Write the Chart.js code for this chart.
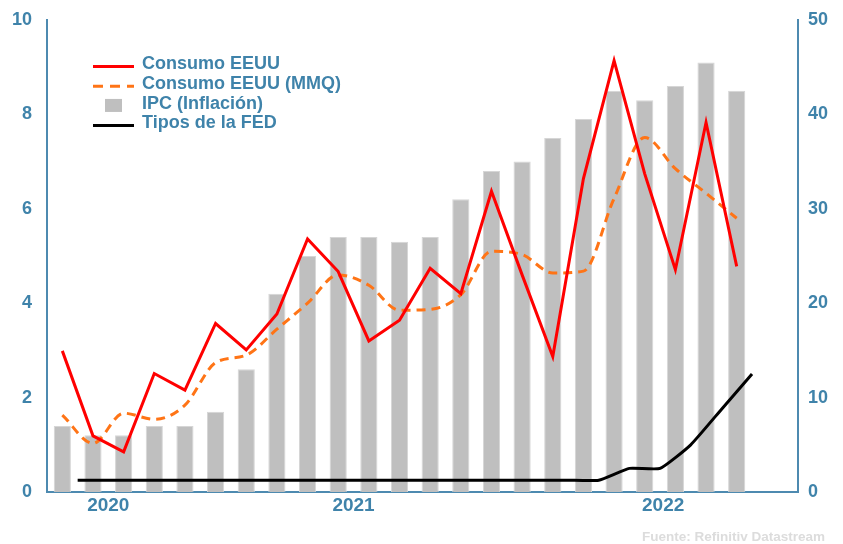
<!DOCTYPE html>
<html>
  <head>
    <script src="https://cdn.jsdelivr.net/npm/chart.js"></script>
  </head>
  <style>
    body {
      margin: 0;
      background: white;
    }
    #container {
      width: 843px;
      height: 544px;
    }
  </style>
  <body>
    <div id="container">
      <canvas id="consumoChart"></canvas>
    </div>
    <script>
      // meses de sep-2020 a jul-2022
      const MONTHS = ['2020-09', '2020-10', '2020-11', '2020-12', '2021-01', '2021-02', '2021-03', '2021-04',
        '2021-05', '2021-06', '2021-07', '2021-08', '2021-09', '2021-10', '2021-11', '2021-12',
        '2022-01', '2022-02', '2022-03', '2022-04', '2022-05', '2022-06', '2022-07'];
      const YEARS = ['2020', '2021', '2022'];

      const CONSUMO = [2.99, 1.19, 0.85, 2.51, 2.16, 3.57, 3.01, 3.77, 5.36, 4.67, 3.2, 3.64,
        4.74, 4.2, 6.37, 4.6, 2.87, 6.64, 9.14, 6.74, 4.71, 7.83, 4.78];
      const CONSUMO_MMQ = [1.63, 1.03, 1.67, 1.54, 1.84, 2.74, 2.9, 3.45, 4.0, 4.6, 4.38, 3.85,
        3.87, 4.18, 5.1, 5.03, 4.64, 4.68, 6.22, 7.51, 6.85, 6.33, 5.8];
      const IPC = [1.4, 1.2, 1.2, 1.4, 1.4, 1.7, 2.6, 4.2, 5.0, 5.4, 5.4, 5.3,
        5.4, 6.2, 6.8, 7.0, 7.5, 7.9, 8.5, 8.3, 8.6, 9.1, 8.5];
      const TIPOS_FED = [0.25, 0.25, 0.25, 0.25, 0.25, 0.25, 0.25, 0.25, 0.25, 0.25, 0.25, 0.25,
        0.25, 0.25, 0.25, 0.25, 0.25, 0.25, 0.5, 0.5, 1.0, 1.75, 2.5];

      const AXIS_COLOR = '#4d8ab0';
      const TEXT_COLOR = '#3f83aa';
      const FONT = 'Liberation Sans';

      const X_MIN = -0.5;
      const X_MAX = 24;

      // centro de cada año dentro del eje
      const yearCenters = YEARS.map((year) => {
        const idx = MONTHS.map((m, i) => m.startsWith(year) ? i : null).filter((i) => i !== null);
        const from = Math.max(X_MIN, idx[0] - 0.5);
        const to = year === YEARS[YEARS.length - 1] ? X_MAX - 0.3 : idx[idx.length - 1] + 0.5;
        return (from + to) / 2;
      });

      const leyenda = {
        id: 'leyenda',
        afterDraw(chart, args, opts) {
          const ctx = chart.ctx;
          ctx.save();
          ctx.font = 'bold 18px "' + FONT + '"';
          ctx.textBaseline = 'alphabetic';
          opts.order.forEach((dsIndex, row) => {
            const ds = chart.data.datasets[dsIndex];
            const base = opts.top + row * opts.rowHeight;
            if (ds.type === 'bar') {
              ctx.fillStyle = ds.backgroundColor;
              ctx.fillRect(opts.boxX, base - 9.7, 17, 13);
            } else {
              ctx.beginPath();
              ctx.strokeStyle = ds.borderColor;
              ctx.lineWidth = 3;
              ctx.setLineDash(ds.borderDash ? [10, 7] : []);
              ctx.moveTo(opts.lineX1, base - 2.7);
              ctx.lineTo(opts.lineX2, base - 2.7);
              ctx.stroke();
              ctx.setLineDash([]);
            }
            ctx.fillStyle = TEXT_COLOR;
            ctx.fillText(ds.label, opts.textX, base);
          });
          ctx.restore();
        }
      };

      const fuente = {
        id: 'fuente',
        afterDraw(chart) {
          const ctx = chart.ctx;
          ctx.save();
          ctx.font = 'bold 13.5px "' + FONT + '"';
          ctx.fillStyle = '#dcdcdc';
          ctx.textAlign = 'right';
          ctx.textBaseline = 'alphabetic';
          ctx.fillText('Fuente: Refinitiv Datastream', 825, 541);
          ctx.restore();
        }
      };

      const tickFont = { family: FONT, weight: 'bold', size: 18 };

      const fitVertical = (width) => (scale) => {
        scale.width = width;
        scale.paddingTop = 0;
        scale.paddingBottom = 0;
      };

      const config = {
        type: 'bar',
        data: {
          datasets: [
            {
              type: 'line',
              label: 'Consumo EEUU',
              data: CONSUMO.map((v, i) => ({ x: i, y: v })),
              borderColor: '#ff0000',
              borderWidth: 3,
              pointRadius: 0,
              tension: 0,
              yAxisID: 'y',
              order: 0
            },
            {
              type: 'line',
              label: 'Consumo EEUU (MMQ)',
              data: CONSUMO_MMQ.map((v, i) => ({ x: i, y: v })),
              borderColor: '#ff7416',
              borderWidth: 3,
              borderDash: [9, 6],
              pointRadius: 0,
              cubicInterpolationMode: 'monotone',
              yAxisID: 'y',
              order: 1
            },
            {
              type: 'bar',
              label: 'IPC (Inflación)',
              data: IPC.map((v, i) => ({ x: i, y: v })),
              backgroundColor: '#bfbfbf',
              borderColor: '#d6d6d6',
              borderWidth: 1,
              categoryPercentage: 1,
              barPercentage: 0.56,
              yAxisID: 'y',
              order: 3
            },
            {
              type: 'line',
              label: 'Tipos de la FED',
              // tipos fechados a mitad de mes
              data: TIPOS_FED.map((v, i) => ({ x: i + 0.5, y: v })),
              borderColor: '#000000',
              borderWidth: 3,
              pointRadius: 0,
              tension: 0.15,
              yAxisID: 'y',
              order: 2
            }
          ]
        },
        options: {
          responsive: true,
          maintainAspectRatio: false,
          animation: false,
          layout: {
            padding: { top: 20, left: 0, right: 0, bottom: 0 }
          },
          plugins: {
            legend: { display: false },
            tooltip: { enabled: false },
            leyenda: {
              order: [0, 1, 2, 3],
              top: 69.3,
              rowHeight: 19.67,
              lineX1: 93,
              lineX2: 134,
              boxX: 105,
              textX: 142
            }
          },
          scales: {
            x: {
              type: 'linear',
              min: X_MIN,
              max: X_MAX,
              offset: false,
              grid: { display: false, drawTicks: false },
              border: { display: true, color: AXIS_COLOR, width: 2 },
              afterBuildTicks: (scale) => {
                scale.ticks = yearCenters.map((v) => ({ value: v }));
              },
              afterFit: (scale) => {
                scale.height = 52;
                scale.paddingLeft = 0;
                scale.paddingRight = 0;
              },
              ticks: {
                autoSkip: false,
                maxRotation: 0,
                padding: 2,
                color: TEXT_COLOR,
                font: { family: FONT, weight: 'bold', size: 19 },
                callback: (value, index) => YEARS[index]
              }
            },
            y: {
              position: 'left',
              min: 0,
              max: 10,
              grid: { display: false, drawTicks: false },
              border: { display: true, color: AXIS_COLOR, width: 2 },
              afterFit: fitVertical(47),
              ticks: {
                stepSize: 2,
                padding: 15,
                color: TEXT_COLOR,
                font: tickFont
              }
            },
            y2: {
              position: 'right',
              min: 0,
              max: 50,
              grid: { display: false, drawTicks: false },
              border: { display: true, color: AXIS_COLOR, width: 2 },
              afterFit: fitVertical(45),
              ticks: {
                stepSize: 10,
                padding: 10,
                color: TEXT_COLOR,
                font: tickFont
              }
            }
          }
        },
        plugins: [leyenda, fuente]
      };

      const chart = new Chart(document.getElementById('consumoChart'), config);
    </script>
  </body>
</html>
